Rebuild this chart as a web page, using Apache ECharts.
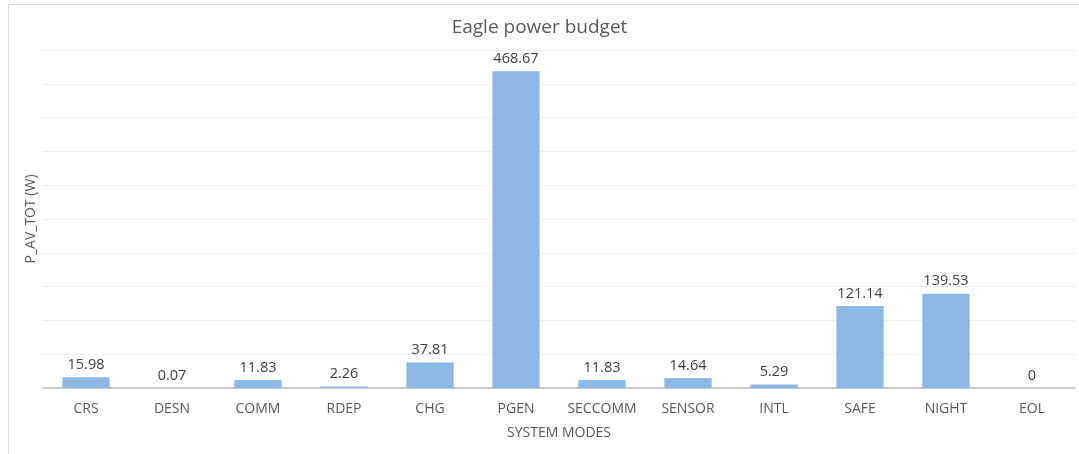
<!DOCTYPE html>
<html>
<head>
<meta charset="utf-8">
<script src="https://cdn.jsdelivr.net/npm/echarts@6/dist/echarts.min.js"></script>
<style>
  html, body { margin: 0; padding: 0; background: #fff; }
  #chart { width: 1079px; height: 454px; }
</style>
</head>
<body>
<div id="chart"></div>
<script>
// System modes and their total average power (W)
const modes = ['CRS', 'DESN', 'COMM', 'RDEP', 'CHG', 'PGEN', 'SECCOMM', 'SENSOR', 'INTL', 'SAFE', 'NIGHT', 'EOL'];
const powerW = [15.98, 0.07, 11.83, 2.26, 37.81, 468.67, 11.83, 14.64, 5.29, 121.14, 139.53, 0];

const FONT = '"Open Sans", "Liberation Sans", sans-serif';
const chart = echarts.init(document.getElementById('chart'), null, { renderer: 'canvas' });

chart.setOption({
  animation: false,
  backgroundColor: '#ffffff',
  graphic: [{
    type: 'rect',
    left: 6, top: 2,
    shape: { width: 1100, height: 500 },
    style: { fill: 'none', stroke: '#d9d9d9', lineWidth: 1 },
    silent: true
  }],
  title: {
    text: 'Eagle power budget',
    left: 'center',
    top: 13,
    textStyle: { fontFamily: FONT, fontSize: 19, fontWeight: 'normal', color: '#595959' }
  },
  grid: { left: 43, right: 4, top: 50, bottom: 66 },
  xAxis: {
    type: 'category',
    data: modes,
    name: 'SYSTEM MODES',
    nameLocation: 'middle',
    nameGap: 38,
    nameTextStyle: { fontFamily: FONT, fontSize: 14, color: '#595959' },
    axisLine: { lineStyle: { color: '#bfbfbf', width: 1.5 } },
    axisTick: { show: false },
    axisLabel: { fontFamily: FONT, fontSize: 14, color: '#595959', margin: 14, interval: 0 }
  },
  yAxis: {
    type: 'value',
    min: 0, max: 500, interval: 50,
    name: 'P_AV_TOT (W)',
    nameLocation: 'middle',
    nameGap: 5,
    nameTextStyle: { fontFamily: FONT, fontSize: 14, color: '#595959' },
    axisLine: { show: false },
    axisTick: { show: false },
    axisLabel: { show: false },
    splitLine: { lineStyle: { color: '#eeeeee', width: 1 } }
  },
  series: [{
    type: 'bar',
    data: powerW,
    barWidth: '55%',
    itemStyle: { color: '#8db8e3' },
    label: {
      show: true,
      position: 'top',
      distance: 5,
      fontFamily: FONT,
      fontSize: 14.5,
      color: '#404040'
    }
  }]
});
</script>
</body>
</html>
